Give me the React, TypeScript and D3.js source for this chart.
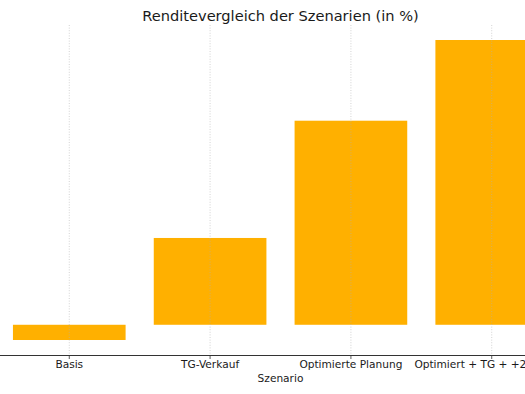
import * as d3 from "d3";

const categories = ["Basis", "TG-Verkauf", "Optimierte Planung", "Optimiert + TG + +2% Miete"];
const rendite = [-1.0, 5.7, 13.4, 18.7];

const W = 525;
const H = 394;
const left = -11;
const right = 572;
const top = 25;
const bottom = 355;

export default function App() {
  const x = d3
    .scaleBand<string>()
    .domain(categories)
    .range([left, right])
    .paddingInner(0.2)
    .paddingOuter(0.17);

  const lo = d3.min(rendite)!;
  const hi = d3.max(rendite)!;
  const pad = (Math.max(hi, 0) - Math.min(lo, 0)) * 0.05;
  const y = d3
    .scaleLinear()
    .domain([Math.min(lo, 0) - pad, Math.max(hi, 0) + pad])
    .range([bottom, top]);

  const font = "DejaVu Sans, sans-serif";

  return (
    <div style={{ position: "fixed", left: 0, top: 0, width: W, height: H, overflow: "hidden", background: "#fff" }}>
      <svg width={W} height={H} style={{ display: "block" }}>
        {/* bars */}
        <g fill="#FFB000">
          {categories.map((c, i) => (
            <rect
              key={c}
              x={x(c)}
              width={x.bandwidth()}
              y={y(Math.max(rendite[i], 0))}
              height={Math.abs(y(rendite[i]) - y(0))}
            />
          ))}
        </g>
        {/* vertical grid */}
        <g stroke="#b0b0b0" strokeOpacity={0.7} strokeWidth={0.8} strokeDasharray="1,1.6">
          {categories.map((c) => {
            const cx = x(c)! + x.bandwidth() / 2;
            return <line key={c} x1={cx} x2={cx} y1={top} y2={bottom} />;
          })}
        </g>
        {/* x axis */}
        <line x1={left} x2={right} y1={bottom + 0.5} y2={bottom + 0.5} stroke="#333" strokeWidth={1} />
        <g fontFamily={font} fontSize={10.6} fill="#1a1a1a" textAnchor="middle">
          {categories.map((c) => {
            const cx = x(c)! + x.bandwidth() / 2;
            return (
              <g key={c}>
                <line x1={cx} x2={cx} y1={bottom} y2={bottom + 4} stroke="#333" strokeWidth={0.8} />
                <text x={cx} y={367.5}>{c}</text>
              </g>
            );
          })}
          <text x={(left + right) / 2} y={382}>Szenario</text>
        </g>
        <text
          x={(left + right) / 2}
          y={21}
          textAnchor="middle"
          fontFamily={font}
          fontSize={14.6}
          fill="#1a1a1a"
        >
          Renditevergleich der Szenarien (in %)
        </text>
      </svg>
    </div>
  );
}
